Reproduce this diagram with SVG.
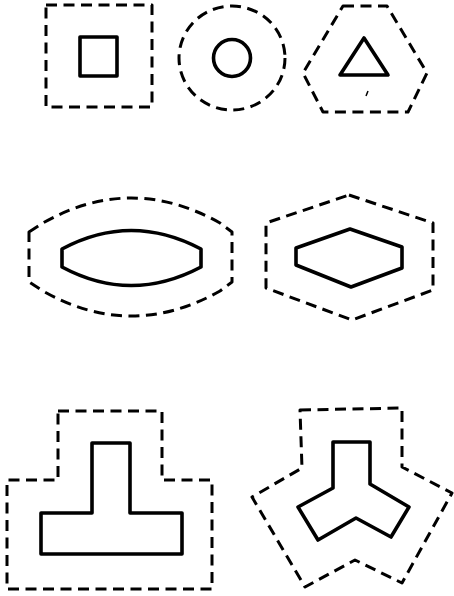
<svg xmlns="http://www.w3.org/2000/svg" width="454" height="596" viewBox="0 0 454 596">
<style>
.d{fill:none;stroke:#000;stroke-width:3;stroke-dasharray:11 6.5;stroke-linejoin:round}
.s{fill:none;stroke:#000;stroke-width:3.6;stroke-linejoin:round}
</style>
<rect width="454" height="596" fill="#fff"/>
<g id="square">
<rect class="d" x="46" y="5" width="106" height="102"/>
<rect class="s" x="80" y="37" width="37" height="39"/>
</g>
<g id="circle">
<ellipse class="d" cx="232" cy="58" rx="53" ry="52"/>
<circle class="s" cx="232" cy="58" r="18.5"/>
</g>
<g id="triangle">
<path class="d" d="M343,6 L387,6 L427,73 L408,112 L323,112 L303,73 Z"/>
<path class="s" d="M364,38 L388,75 L340,75 Z"/>
<line x1="366" y1="96" x2="368" y2="91" stroke="#000" stroke-width="1.5"/>
</g>
<g id="lens">
<path class="d" d="M29,232 L43,223 Q131,173 220,223 L232,232 L232,282 L220,291 Q131,341 43,291 L29,282 Z"/>
<path class="s" d="M62,249 Q131,212 201,249 L201,267 Q131,304 62,267 Z"/>
</g>
<g id="hexagon">
<path class="d" d="M349,195 L433,223 L433,290 L352,320 L266,288 L266,223 Z"/>
<path class="s" d="M350,229 L402,247 L402,268 L351,287 L296,265 L296,248 Z"/>
</g>
<g id="tshape">
<path class="d" d="M58,411 L162,411 L162,480 L212,480 L212,589 L7,589 L7,480 L58,480 Z"/>
<path class="s" d="M92,443 L130,443 L130,513 L182,513 L182,554 L41,554 L41,513 L92,513 Z"/>
</g>
<g id="yshape">
<path class="d" d="M300,410 L402,408 L402,467 L452,493 L402,583 L355,560 L305,587 L252,497 L302,468 Z"/>
<path class="s" d="M333,442 L370,442 L370,484 L409,507 L391,537 L356,518 L318,540 L298,507 L333,488 Z"/>
</g>
<g id="connectors"></g>
</svg>
